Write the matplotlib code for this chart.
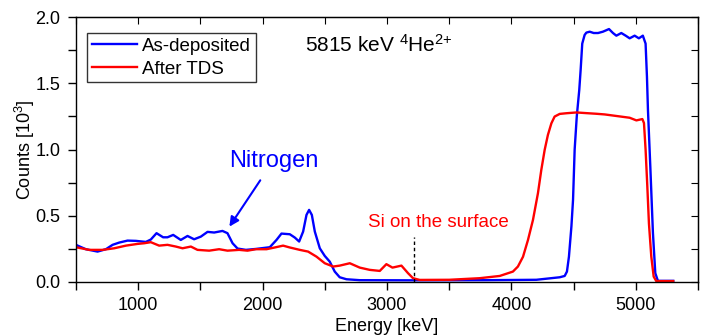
import matplotlib
matplotlib.use("Agg")
import matplotlib.pyplot as plt
from matplotlib.ticker import MultipleLocator, FormatStrFormatter

plt.rcParams['font.family'] = ['Liberation Sans', 'DejaVu Sans']
plt.rcParams['mathtext.fontset'] = 'custom'
plt.rcParams['mathtext.rm'] = 'Liberation Sans'
plt.rcParams['mathtext.it'] = 'Liberation Sans'

# As-deposited (blue)
blue_x = [500, 580, 674, 741, 795, 848, 915, 982, 1062, 1102, 1148, 1201, 1236, 1282, 1343, 1397,
          1450, 1504, 1558, 1611, 1678, 1718, 1759, 1799, 1866, 1946, 2058, 2112, 2152, 2219,
          2259, 2294, 2326, 2353, 2374, 2396, 2420, 2460, 2500, 2540, 2580, 2620, 2674, 2781,
          3200, 3800, 4200, 4388, 4428, 4446, 4462, 4482, 4495, 4508, 4525, 4545, 4556, 4569,
          4588, 4602, 4629, 4661, 4696, 4735, 4784, 4816, 4843, 4883, 4918, 4950, 4990, 5024,
          5056, 5078, 5089, 5097, 5116, 5137, 5156, 5177, 5300]
blue_y = [0.28, 0.247, 0.229, 0.247, 0.28, 0.297, 0.312, 0.31, 0.302, 0.32, 0.368, 0.337, 0.337,
          0.355, 0.317, 0.347, 0.322, 0.342, 0.378, 0.373, 0.385, 0.368, 0.292, 0.252, 0.242,
          0.249, 0.262, 0.317, 0.365, 0.36, 0.335, 0.305, 0.38, 0.506, 0.544, 0.506, 0.38, 0.254,
          0.196, 0.153, 0.078, 0.035, 0.02, 0.013, 0.012, 0.013, 0.016, 0.035, 0.045, 0.078,
          0.19, 0.42, 0.62, 1.0, 1.25, 1.45, 1.6, 1.80, 1.865, 1.883, 1.89, 1.88, 1.88, 1.89,
          1.91, 1.88, 1.86, 1.88, 1.86, 1.84, 1.86, 1.84, 1.86, 1.80, 1.55, 1.30, 0.87, 0.37,
          0.066, 0.008, 0.008]

# After TDS (red)
red_x = [500, 607, 714, 808, 902, 995, 1049, 1102, 1169, 1236, 1303, 1357, 1424, 1477, 1571,
         1651, 1718, 1812, 1879, 1946, 2032, 2098, 2165, 2219, 2299, 2366, 2433, 2500, 2567,
         2620, 2701, 2781, 2861, 2942, 2995, 3044, 3116, 3169, 3209, 3263, 3500, 3745, 3906,
         4012, 4052, 4093, 4133, 4173, 4213, 4240, 4267, 4293, 4321, 4347, 4388, 4441, 4522,
         4600, 4683, 4750, 4870, 4950, 5004, 5052, 5065, 5078, 5092, 5105, 5124, 5143, 5164,
         5300]
red_y = [0.262, 0.242, 0.242, 0.254, 0.274, 0.287, 0.292, 0.30, 0.274, 0.28, 0.267, 0.254,
         0.267, 0.242, 0.236, 0.247, 0.236, 0.242, 0.236, 0.247, 0.247, 0.26, 0.274, 0.26,
         0.242, 0.229, 0.191, 0.141, 0.116, 0.123, 0.141, 0.108, 0.091, 0.083, 0.134, 0.108,
         0.123, 0.066, 0.028, 0.015, 0.016, 0.028, 0.045, 0.078, 0.116, 0.19, 0.317, 0.468,
         0.67, 0.846, 0.997, 1.11, 1.198, 1.249, 1.269, 1.274, 1.28, 1.275, 1.27, 1.265, 1.25,
         1.24, 1.22, 1.23, 1.2, 1.0, 0.72, 0.44, 0.19, 0.04, 0.006, 0.006]

fig = plt.figure(figsize=(7.16, 3.36), dpi=100)
ax = fig.add_axes([0.106, 0.161, 0.869, 0.788])

ax.plot(blue_x, blue_y, color='#0000ff', lw=1.7, label='As-deposited', solid_joinstyle='round')
ax.plot(red_x, red_y, color='#ff0000', lw=1.7, label='After TDS', solid_joinstyle='round')

ax.set_xlim(500, 5500)
ax.set_ylim(0, 2.0)
ax.xaxis.set_major_locator(MultipleLocator(1000))
ax.xaxis.set_minor_locator(MultipleLocator(500))
ax.yaxis.set_major_locator(MultipleLocator(0.5))
ax.yaxis.set_minor_locator(MultipleLocator(0.25))
ax.yaxis.set_major_formatter(FormatStrFormatter('%.1f'))
ax.tick_params(which='both', direction='out', length=6, width=1, labelsize=13, pad=5)
for s in ax.spines.values():
    s.set_linewidth(1.0)

# mirrored inward ticks on top and right
axt = ax.secondary_xaxis('top')
axt.xaxis.set_major_locator(MultipleLocator(500))
axt.tick_params(direction='in', length=5, labeltop=False)
axt.set_xticklabels([])
axr = ax.secondary_yaxis('right')
axr.yaxis.set_major_locator(MultipleLocator(0.25))
axr.tick_params(direction='in', length=5)
axr.set_yticklabels([])

ax.set_xlabel('Energy [keV]', fontsize=13, labelpad=3)
ax.set_ylabel(r'Counts [10$^{3}$]', fontsize=13, labelpad=-1)

ax.text(2339, 1.79, r'5815 keV $^{4}$He$^{2{+}}$', fontsize=15, va='center', ha='left')

ax.annotate('', xy=(1721, 0.40), xytext=(1994, 0.785),
            arrowprops=dict(arrowstyle='-|>', color='#0000ff', lw=1.5, mutation_scale=14))
ax.text(2090, 0.91, 'Nitrogen', color='#0000ff', fontsize=17, ha='center', va='center')

ax.plot([3215, 3215], [0, 0.34], color='black', lw=1, ls=(0, (2.5, 2)))
ax.text(3416, 0.445, 'Si on the surface', color='#ff0000', fontsize=13.5, ha='center', va='center')

leg = ax.legend(loc='upper left', bbox_to_anchor=(0.018, 0.94), fontsize=13.5, frameon=True,
                fancybox=False, edgecolor='black', handlelength=2.4, handletextpad=0.3,
                borderpad=0.25, labelspacing=0.3, borderaxespad=0)
leg.get_frame().set_linewidth(1.0)

fig.savefig('out.png', dpi=100)
